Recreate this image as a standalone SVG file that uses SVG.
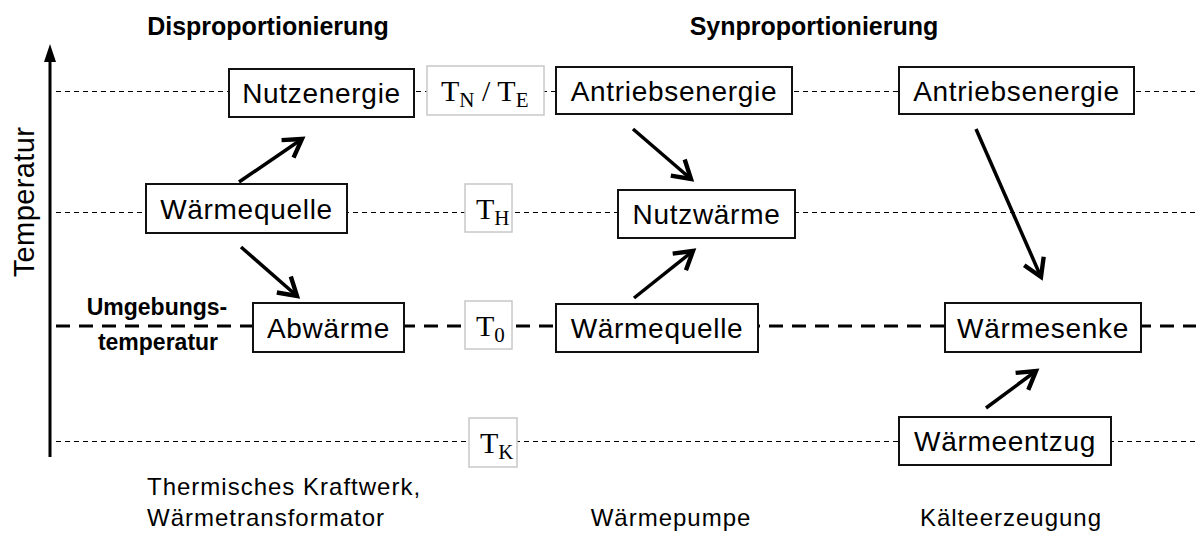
<svg xmlns="http://www.w3.org/2000/svg" width="1196" height="535" viewBox="0 0 1196 535">
  <style>
    .lvl { stroke: #000; stroke-width: 1; stroke-dasharray: 5 4; fill: none; }
    .lvl0 { stroke: #000; stroke-width: 3; stroke-dasharray: 14 9; fill: none; }
    .box { fill: #fff; stroke: #111; stroke-width: 2; }
    .tbox { fill: #fff; stroke: #c8c8c8; stroke-width: 1.5; }
    .lbl { font-family: "Liberation Sans", Arial, sans-serif; font-size: 28px; letter-spacing: 0.7px; fill: #000; text-anchor: middle; }
    .tl { font-family: "Liberation Serif", "DejaVu Serif", serif; font-size: 30px; fill: #000; }
    .sub { font-size: 21px; }
    .head { font-family: "Liberation Sans", Arial, sans-serif; font-size: 25px; font-weight: bold; fill: #000; text-anchor: middle; }
    .amb { font-family: "Liberation Sans", Arial, sans-serif; font-size: 23px; font-weight: bold; fill: #000; text-anchor: middle; }
    .cap { font-family: "Liberation Sans", Arial, sans-serif; font-size: 24px; letter-spacing: 1px; fill: #000; }
    .mid { text-anchor: middle; }
    .arr { stroke: #000; stroke-width: 3.5; fill: none; marker-end: url(#head); }
  </style>
  <defs>
    <marker id="head" markerUnits="userSpaceOnUse" markerWidth="30" markerHeight="30" viewBox="-20 -12 24 24" refX="0" refY="0" orient="auto">
      <path d="M -14 -8.5 L 0 0 L -14 8.5" fill="none" stroke="#000" stroke-width="3.5" stroke-linejoin="miter"/>
    </marker>
  </defs>

  <!-- headings -->
  <text class="head" x="268" y="35">Disproportionierung</text>
  <text class="head" x="814" y="35">Synproportionierung</text>

  <!-- temperature axis -->
  <g id="axis">
    <line x1="50" y1="457" x2="50" y2="58" stroke="#000" stroke-width="3"/>
    <polygon points="50,44 44,62 56,62" fill="#000"/>
    <text class="lbl" transform="translate(34,202) rotate(-90)" style="font-size:29px;letter-spacing:0.4px">Temperatur</text>
  </g>

  <!-- temperature levels -->
  <g id="levels">
    <line class="lvl" x1="56" y1="91.5" x2="1196" y2="91.5"/>
    <line class="lvl" x1="56" y1="212.5" x2="1196" y2="212.5"/>
    <line class="lvl0" x1="56" y1="326" x2="1196" y2="326"/>
    <line class="lvl" x1="56" y1="441.5" x2="1196" y2="441.5"/>
  </g>

  <!-- ambient temperature label -->
  <g id="ambient">
    <text class="amb" x="157" y="315">Umgebungs-</text>
    <text class="amb" x="158" y="350">temperatur</text>
  </g>

  <!-- level markers -->
  <g id="t-ne">
    <rect class="tbox" x="427" y="66" width="117" height="49"/>
    <text class="tl" x="441" y="101">T<tspan class="sub" dy="6">N</tspan><tspan dy="-6"> / T</tspan><tspan class="sub" dy="6">E</tspan></text>
  </g>
  <g id="t-h">
    <rect class="tbox" x="465" y="184" width="47" height="48"/>
    <text class="tl" x="476" y="219">T<tspan class="sub" dy="6">H</tspan></text>
  </g>
  <g id="t-0">
    <rect class="tbox" x="465" y="301" width="47" height="48"/>
    <text class="tl" x="476" y="336">T<tspan class="sub" dy="6">0</tspan></text>
  </g>
  <g id="t-k">
    <rect class="tbox" x="469" y="418" width="48" height="49"/>
    <text class="tl" x="480" y="453">T<tspan class="sub" dy="6">K</tspan></text>
  </g>

  <!-- Disproportionierung -->
  <g id="nutzenergie">
    <rect class="box" x="229" y="69" width="185" height="48"/>
    <text class="lbl" x="321.5" y="103">Nutzenergie</text>
  </g>
  <g id="waermequelle-1">
    <rect class="box" x="146" y="184" width="201" height="49"/>
    <text class="lbl" x="246.5" y="219">Wärmequelle</text>
  </g>
  <g id="abwaerme">
    <rect class="box" x="253" y="303" width="151" height="49"/>
    <text class="lbl" x="328.5" y="338">Abwärme</text>
  </g>

  <!-- Wärmepumpe -->
  <g id="antrieb-1">
    <rect class="box" x="556" y="67" width="236" height="47"/>
    <text class="lbl" x="674" y="101">Antriebsenergie</text>
  </g>
  <g id="nutzwaerme">
    <rect class="box" x="618" y="190" width="177" height="48"/>
    <text class="lbl" x="706.5" y="224">Nutzwärme</text>
  </g>
  <g id="waermequelle-2">
    <rect class="box" x="556" y="304" width="202" height="48"/>
    <text class="lbl" x="657" y="338">Wärmequelle</text>
  </g>

  <!-- Kälteerzeugung -->
  <g id="antrieb-2">
    <rect class="box" x="899" y="67" width="235" height="47"/>
    <text class="lbl" x="1016.5" y="101">Antriebsenergie</text>
  </g>
  <g id="waermesenke">
    <rect class="box" x="945" y="303" width="196" height="49"/>
    <text class="lbl" x="1043" y="338">Wärmesenke</text>
  </g>
  <g id="waermeentzug">
    <rect class="box" x="899" y="417" width="212" height="48"/>
    <text class="lbl" x="1005" y="451">Wärmeentzug</text>
  </g>

  <!-- flows -->
  <g id="connectors">
    <line class="arr" x1="239" y1="182" x2="302" y2="139"/>
    <line class="arr" x1="241" y1="247" x2="297" y2="296"/>
    <line class="arr" x1="633" y1="129" x2="691" y2="179"/>
    <line class="arr" x1="634" y1="298" x2="693" y2="251"/>
    <line class="arr" x1="976" y1="129" x2="1041" y2="277"/>
    <line class="arr" x1="986" y1="408" x2="1036" y2="371"/>
  </g>

  <!-- captions -->
  <g id="captions">
    <text class="cap" x="147" y="495">Thermisches Kraftwerk,</text>
    <text class="cap" x="147" y="526">Wärmetransformator</text>
    <text class="cap mid" x="671" y="526">Wärmepumpe</text>
    <text class="cap mid" x="1011" y="526">Kälteerzeugung</text>
  </g>
</svg>
